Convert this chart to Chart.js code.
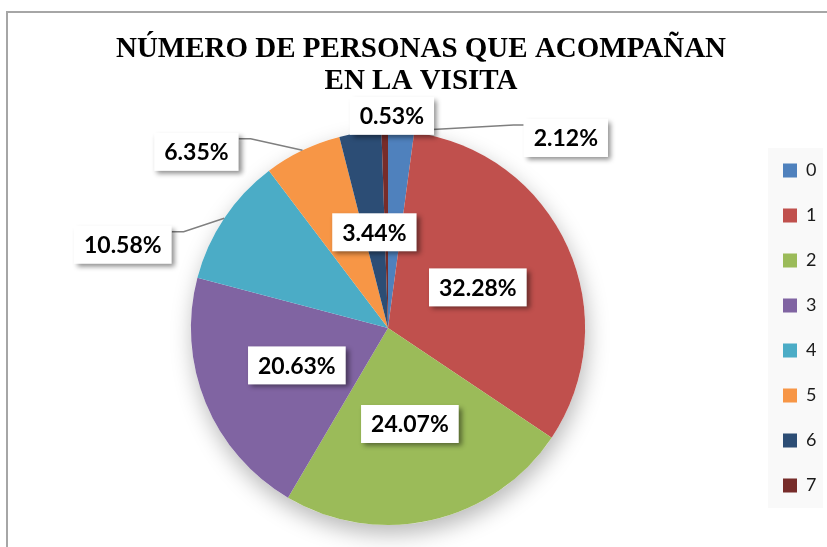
<!DOCTYPE html>
<html>
<head>
<meta charset="utf-8">
<script src="https://cdn.jsdelivr.net/npm/chart.js@4/dist/chart.umd.min.js"></script>
<style>
  html, body { margin: 0; padding: 0; background: #ffffff; overflow: hidden; }
  #frame { position: absolute; left: 6px; top: 11px; width: 900px; height: 600px; border-left: 2px solid #a6a6a6; border-top: 2px solid #a6a6a6; }
  #chart { position: absolute; left: 0; top: 0; }
</style>
</head>
<body>
<div id="frame"></div>
<canvas id="chart" width="827" height="547"></canvas>
<script>
var categories = ['0', '1', '2', '3', '4', '5', '6', '7'];
var percentValues = [2.12, 32.28, 24.07, 20.63, 10.58, 6.35, 3.44, 0.53];
var sliceColors = ['#4f81bd', '#c0504d', '#9bbb59', '#8064a2', '#4bacc6', '#f79646', '#2c4d75', '#772c2a'];
var titleLines = ['NÚMERO DE PERSONAS QUE ACOMPAÑAN', 'EN LA VISITA'];

// where each value box sits: share of the radius, turn from the slice middle (deg), leader line
var labelSpots = [
  { r: 1.32, turn: 39.3, leader: true },
  { r: 0.5, turn: 0, leader: false },
  { r: 0.5, turn: 0, leader: false },
  { r: 0.5, turn: 0, leader: false },
  { r: 1.41, turn: -16.4, leader: true },
  { r: 1.32, turn: -21.7, leader: true },
  { r: 0.49, turn: 0, leader: false },
  { r: 1.076, turn: 2.0, leader: false }
];

const pieShadow = {
  id: 'pieShadow',
  beforeDatasetsDraw (chart) {
    const arc = chart.getDatasetMeta(0).data[0];
    if (!arc) return;
    const ctx = chart.ctx;
    ctx.save();
    ctx.shadowColor = 'rgba(0, 0, 0, 0.28)';
    ctx.shadowBlur = 22;
    ctx.shadowOffsetX = 2;
    ctx.shadowOffsetY = 9;
    ctx.fillStyle = '#ffffff';
    ctx.beginPath();
    ctx.arc(arc.x, arc.y, arc.outerRadius, 0, Math.PI * 2);
    ctx.fill();
    ctx.restore();
  }
};

const legendPanel = {
  id: 'legendPanel',
  beforeDraw (chart) {
    const lg = chart.legend;
    const ctx = chart.ctx;
    const mid = (lg.top + lg.bottom) / 2;
    ctx.save();
    ctx.fillStyle = '#f9f9f9';
    ctx.fillRect(lg.left + 12, mid - 180, 55, 360);
    ctx.restore();
  }
};

const sliceLabels = {
  id: 'sliceLabels',
  afterDatasetsDraw (chart) {
    const ctx = chart.ctx;
    const arcs = chart.getDatasetMeta(0).data;
    const boxes = [];
    ctx.save();
    ctx.font = 'bold 23px Lato';
    arcs.forEach(function (arc, i) {
      const p = arc.getProps(['x', 'y', 'startAngle', 'endAngle', 'outerRadius'], true);
      const mid = (p.startAngle + p.endAngle) / 2;
      const spot = labelSpots[i];
      const a = mid + spot.turn * Math.PI / 180;
      const cx = p.x + Math.cos(a) * p.outerRadius * spot.r;
      const cy = p.y + Math.sin(a) * p.outerRadius * spot.r;
      const text = percentValues[i].toFixed(2) + '%';
      const w = ctx.measureText(text).width + 20;
      const h = 38;
      boxes.push({ text: text, cx: cx, cy: cy, w: w, h: h, left: cx - w / 2, top: cy - h / 2 });
      if (spot.leader) {
        const ex = p.x + Math.cos(mid) * p.outerRadius;
        const ey = p.y + Math.sin(mid) * p.outerRadius;
        const onRight = cx > p.x;
        const ax = onRight ? cx - w / 2 : cx + w / 2;
        const ay = cy - h / 2 + 6;
        const bx = onRight ? ax - 10 : ax + 12;
        ctx.strokeStyle = '#7f7f7f';
        ctx.lineWidth = 1.5;
        ctx.beginPath();
        ctx.moveTo(ex, ey);
        ctx.lineTo(bx, ay);
        ctx.lineTo(ax, ay);
        ctx.stroke();
      }
    });
    boxes.forEach(function (b) {
      ctx.save();
      ctx.shadowColor = 'rgba(0, 0, 0, 0.45)';
      ctx.shadowBlur = 5;
      ctx.shadowOffsetX = 3;
      ctx.shadowOffsetY = 3;
      ctx.fillStyle = '#ffffff';
      ctx.fillRect(b.left, b.top, b.w, b.h);
      ctx.restore();
      ctx.fillStyle = '#000000';
      ctx.textAlign = 'center';
      ctx.textBaseline = 'middle';
      ctx.fillText(b.text, b.cx, b.cy + 1);
    });
    ctx.restore();
  }
};

const ctx = document.getElementById('chart').getContext('2d');
const visitChart = new Chart(ctx, {
  type: 'pie',
  data: {
    labels: categories,
    datasets: [{
      data: percentValues,
      backgroundColor: sliceColors,
      borderWidth: 0
    }]
  },
  options: {
    responsive: false,
    animation: false,
    layout: { padding: { left: 20, right: 5, top: 0, bottom: 22 } },
    plugins: {
      title: {
        display: true,
        text: titleLines,
        color: '#000000',
        font: { family: 'Liberation Serif', size: 29, weight: 'bold', lineHeight: 1.1 },
        padding: { top: 34, bottom: 33 }
      },
      legend: {
        position: 'right',
        fullSize: false,
        maxWidth: 66,
        labels: {
          boxWidth: 14,
          boxHeight: 14,
          padding: 27,
          color: '#1a1a1a',
          font: { family: 'Lato', size: 18 }
        }
      },
      tooltip: { enabled: false }
    }
  },
  plugins: [legendPanel, pieShadow, sliceLabels]
});
</script>
</body>
</html>
